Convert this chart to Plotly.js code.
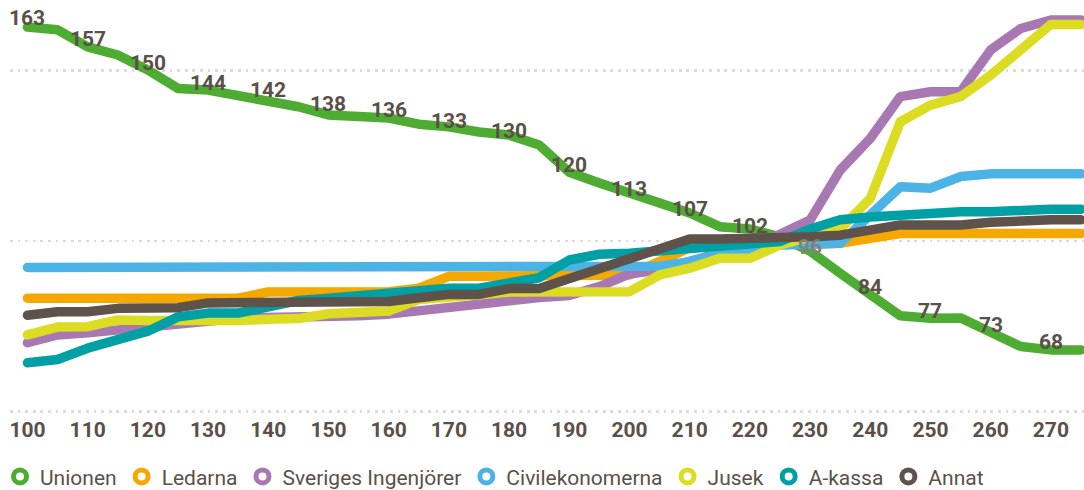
<!DOCTYPE html>
<html>
<head>
<meta charset="utf-8">
<script src="https://cdn.plot.ly/plotly-3.0.1.min.js"></script>
<style>
  html, body { margin: 0; padding: 0; background: #fff; }
  #chart { width: 1084px; height: 490px; }
  .scatterlayer path.js-line { stroke-linecap: round; stroke-linejoin: round; }
</style>
</head>
<body>
<div id="chart"></div>
<script>
// ---- data ----
const xValues = [100,105,110,115,120,125,130,135,140,145,150,155,160,165,170,175,180,185,190,195,200,205,210,215,220,225,230,235,240,245,250,255,260,265,270,275];

const unionen = [162.8,162.0,157.0,154.6,150.2,144.8,144.3,142.9,141.4,139.4,137.0,136.4,136.1,134.3,133.5,132.0,131.1,128.2,120.2,117.0,114.1,111.1,108.2,104.2,103.5,101.2,97.0,90.5,84.5,78.0,77.3,77.4,73.2,69.0,68.0,68.0];
const ledarna = [83.2,83.2,83.2,83.2,83.2,83.2,83.2,83.2,85.0,85.0,85.0,85.0,85.1,86.1,89.6,89.6,89.6,89.8,89.8,89.8,90.0,94.0,98.0,98.5,99.0,99.0,99.0,99.3,100.8,102.2,102.2,102.2,102.2,102.2,102.2,102.2];
const sverigesIngenjorer = [70.1,72.4,73.0,73.9,74.6,76.0,77.0,77.3,77.5,77.5,77.6,78.0,78.5,79.6,80.6,81.8,83.0,83.4,84.0,86.6,90.3,91.5,94.0,96.4,97.8,101.7,106.1,120.8,130.1,142.4,143.8,143.8,156.1,162.4,164.9,164.9];
const civilekonomerna = [92.2,92.2,92.2,92.2,92.2,92.2,92.2,92.2,92.2,92.2,92.2,92.2,92.2,92.2,92.2,92.2,92.2,92.2,92.2,92.2,92.2,92.6,93.9,96.1,97.3,98.8,99.0,99.3,107.6,115.9,115.5,118.9,119.7,119.7,119.7,119.7];
const jusek = [72.4,74.7,74.8,76.8,76.6,76.4,76.3,76.6,77.0,77.2,78.6,79.0,79.4,82.8,83.8,84.2,85.0,85.1,85.1,85.1,85.1,90.0,92.0,94.9,94.9,98.8,101.0,103.5,112.5,135.0,139.9,142.4,148.7,156.6,163.6,163.6];
const aKassa = [64.2,65.2,68.5,70.8,73.5,77.7,78.8,78.8,81.0,82.5,83.2,84.0,84.6,85.3,86.1,86.1,87.6,89.2,94.4,96.1,96.4,97.1,97.8,98.3,99.0,99.8,103.5,106.2,107.0,107.6,107.6,108.6,108.6,109.3,109.3,109.3];
const annat = [78.2,79.2,79.2,80.2,80.3,80.4,81.8,81.8,81.8,81.8,81.8,81.9,82.2,83.3,84.3,84.3,86.0,86.0,89.0,92.0,94.4,97.8,100.6,100.6,100.6,100.6,101.2,101.7,103.2,104.7,104.7,104.7,105.5,106.2,106.2,106.2];

const seriesNames = ["Unionen","Ledarna","Sveriges Ingenjörer","Civilekonomerna","Jusek","A-kassa","Annat"];
const seriesColors = ["#4fac33","#f5a800","#a878b2","#4cb3e6","#dcdc22","#00a0a4","#5e524a"];
const seriesValues = [unionen, ledarna, sverigesIngenjorer, civilekonomerna, jusek, aKassa, annat];

const labelX = [100,110,120,130,140,150,160,170,180,190,200,210,220,230,240,250,260,270];
const labelValues = [163,157,150,144,142,138,136,133,130,120,113,107,102,96,84,77,73,68];

const xTickVals = [100,110,120,130,140,150,160,170,180,190,200,210,220,230,240,250,260,270];
const yGridVals = [50,100,150];

// ---- styling ----
const TEXT = "#5b5048";
const FONT = "Roboto, 'Open Sans', sans-serif";

const traces = [];
seriesValues.forEach((vals, i) => {
  traces.push({
    type: "scatter", mode: "lines", x: xValues, y: vals,
    name: seriesNames[i], showlegend: false, hoverinfo: "skip",
    line: {color: seriesColors[i], width: 9.5, shape: "linear"}
  });
});
// legend entries (ring markers)
seriesNames.forEach((n, i) => {
  traces.push({
    type: "scatter", mode: "markers", x: [null], y: [null],
    name: n, showlegend: true,
    marker: {symbol: "circle-open", size: 13, color: seriesColors[i], line: {width: 5, color: seriesColors[i]}}
  });
});

const annotations = labelX.map((x, i) => ({
  x: x, y: labelValues[i], xref: "x", yref: "y",
  text: String(labelValues[i]), showarrow: false, yshift: 8,
  font: {family: FONT, size: 21, color: labelValues[i] === 96 ? "#85807b" : TEXT, weight: 700}
}));

const layout = {
  width: 1084, height: 490,
  margin: {l: 10, r: 0, t: 0, b: 75, pad: 0},
  paper_bgcolor: "#ffffff", plot_bgcolor: "#ffffff",
  showlegend: true,
  legend: {
    orientation: "h", x: 0.0, xref: "container", xanchor: "left",
    y: 0.027, yref: "container", yanchor: "middle",
    font: {family: FONT, size: 21, color: TEXT},
    itemclick: false, itemdoubleclick: false, bgcolor: "rgba(0,0,0,0)",
    tracegroupgap: 0, itemwidth: 30
  },
  xaxis: {
    range: [97.1, 275.5], tickvals: xTickVals, ticktext: xTickVals.map(String),
    showgrid: false, zeroline: false, showline: false, ticks: "",
    tickfont: {family: FONT, size: 21, color: TEXT, weight: 700},
    fixedrange: true
  },
  yaxis: {
    range: [48.88, 170.76], tickvals: yGridVals, showticklabels: false,
    showgrid: true, gridcolor: "#dcdcdc", gridwidth: 2.7, griddash: "2.7px,4.9px",
    zeroline: false, showline: false, ticks: "", fixedrange: true
  },
  annotations: annotations
};

Plotly.newPlot("chart", traces, layout, {displayModeBar: false, staticPlot: true});
</script>
</body>
</html>
